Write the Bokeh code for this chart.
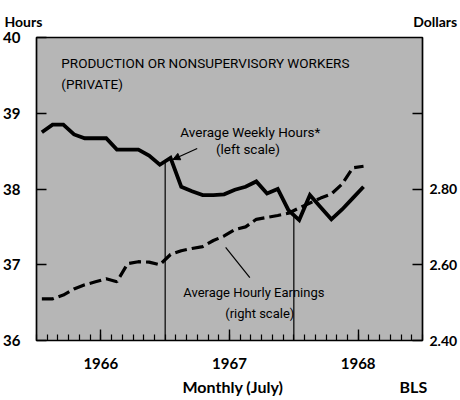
import numpy as np
from bokeh.plotting import figure
from bokeh.models import Range1d, LinearAxis, FixedTicker, Label, Arrow, NormalHead, Title
from bokeh.embed import file_html
from bokeh.resources import INLINE

# ---- data (monthly, Jan 1966 - Jul 1968) ----
years = [1966] * 12 + [1967] * 12 + [1968] * 7
months = list(range(1, 13)) * 2 + list(range(1, 8))

# Average weekly hours (left scale)
hours = [38.75, 38.85, 38.85, 38.72, 38.67, 38.67, 38.67, 38.52, 38.52, 38.52, 38.44, 38.32,
         38.41, 38.03, 37.97, 37.92, 37.92, 37.93, 37.99, 38.03, 38.10, 37.94, 38.00, 37.72,
         37.59, 37.92, 37.76, 37.60, 37.73, 37.88, 38.03]

# Average hourly earnings, dollars (right scale)
earnings = [2.51, 2.51, 2.52, 2.536, 2.547, 2.555, 2.563, 2.555, 2.603, 2.608, 2.607, 2.600,
            2.627, 2.637, 2.643, 2.648, 2.664, 2.676, 2.693, 2.700, 2.720, 2.725, 2.730, 2.736,
            2.750, 2.763, 2.776, 2.787, 2.813, 2.856, 2.860]

hour_ticks = [36, 37, 38, 39, 40]
dollar_ticks = [2.40, 2.60, 2.80, 3.00]
dollar_labels = ["2.40", "2.60", "2.80", ""]
year_ticks = [1966.5, 1967.5, 1968.5]
year_labels = ["1966", "1967", "1968"]
year_marks = [1967.0, 1968.0]

t = [y + (m - 0.5) / 12 for y, m in zip(years, months)]

BOLD = "Lato"
NARROW = "Roboto"
NB = "\u00a0"

p = figure(width=460, height=400, x_range=Range1d(1966, 1969), y_range=Range1d(36, 40),
           output_backend="svg", toolbar_location=None,
           min_border_left=35, min_border_right=36, min_border_top=37, min_border_bottom=60)
p.background_fill_color = "#b6b6b6"
p.border_fill_color = "white"
p.outline_line_color = "black"
p.outline_line_width = 1.7
p.grid.visible = False

# x axis
xa = p.xaxis[0]
xa.ticker = FixedTicker(ticks=year_ticks, minor_ticks=[1966 + k / 12 for k in range(37)])
xa.major_label_overrides = {tk: lb for tk, lb in zip(year_ticks, year_labels)}
xa.axis_line_color = None
xa.major_tick_in = 11
xa.major_tick_out = 0
xa.minor_tick_in = 6
xa.minor_tick_out = 0
xa.major_tick_line_width = 1.4
xa.minor_tick_line_width = 1.2
xa.major_label_text_font = BOLD
xa.major_label_text_font_style = "bold"
xa.major_label_text_font_size = "15px"
xa.major_label_text_color = "black"
xa.major_label_standoff = 17

# left axis
ya = p.yaxis[0]
ya.ticker = FixedTicker(ticks=hour_ticks, minor_ticks=[])
ya.axis_line_color = None
ya.major_tick_in = 10
ya.major_tick_out = 0
ya.major_tick_line_width = 1.4
ya.major_label_text_font = BOLD
ya.major_label_text_font_style = "bold"
ya.major_label_text_font_size = "15px"
ya.major_label_text_color = "black"
ya.major_label_standoff = 16

# right axis
p.extra_y_ranges = {"dollars": Range1d(2.40, 3.20)}
ra = LinearAxis(y_range_name="dollars", ticker=FixedTicker(ticks=dollar_ticks, minor_ticks=[]),
                major_label_overrides={tk: lb for tk, lb in zip(dollar_ticks, dollar_labels)},
                major_label_text_font=BOLD, major_label_text_font_style="bold",
                major_label_text_font_size="14px", major_label_text_color="black",
                major_label_standoff=7,
                major_tick_in=10, major_tick_out=0, axis_line_color=None,
                major_tick_line_width=1.4)
p.add_layout(ra, "right")

# vertical year markers from the hours line down to the axis
p.segment(x0=year_marks, x1=year_marks, y0=list(np.interp(year_marks, t, hours)),
          y1=[36] * len(year_marks), line_color="black", line_width=1.2)

# series
p.line(t, earnings, y_range_name="dollars", line_color="black", line_width=3.2, line_dash="12 5")
p.line(t, hours, line_color="black", line_width=3.8, line_join="miter")

# annotations inside the frame
def lab(x, y, text, size="13.5px", align="left"):
    p.add_layout(Label(x=x, y=y, text=text, text_font=NARROW, text_font_size=size,
                       text_align=align, text_baseline="alphabetic", text_color="black"))

lab(1966.193, 39.669, "PRODUCTION OR NONSUPERVISORY WORKERS")
lab(1966.193, 39.389, "(PRIVATE)")
lab(1967.118, 38.759, "Average Weekly Hours*")
lab(1967.643, 38.534, "(left scale)", align="center")
lab(1967.141, 36.633, "Average Hourly Earnings", size="13px")
lab(1967.735, 36.356, "(right scale)", align="center", size="13px")

p.add_layout(Arrow(x_start=1967.249, y_start=38.535, x_end=1967.06, y_end=38.39,
                   line_color="black", line_width=1.2,
                   end=NormalHead(size=7, fill_color="black", line_color="black")))
p.segment(x0=[1967.658], y0=[36.83], x1=[1967.47], y1=[37.23], line_color="black", line_width=1.2)

# texts outside the frame (titles in the side panels)
top = Title(text="Hours" + NB * 109 + "Dollars", align="left", offset=-32, standoff=16,
            text_font=BOLD, text_font_style="bold", text_font_size="14px", text_color="black")
p.add_layout(top, "above")
bottom = Title(text="Monthly (July)" + NB * 30 + "BLS", align="left", offset=146, standoff=6,
               text_font=BOLD, text_font_style="bold", text_font_size="16px", text_color="black")
p.add_layout(bottom, "below")

open("out.html", "w").write(file_html(p, INLINE))
